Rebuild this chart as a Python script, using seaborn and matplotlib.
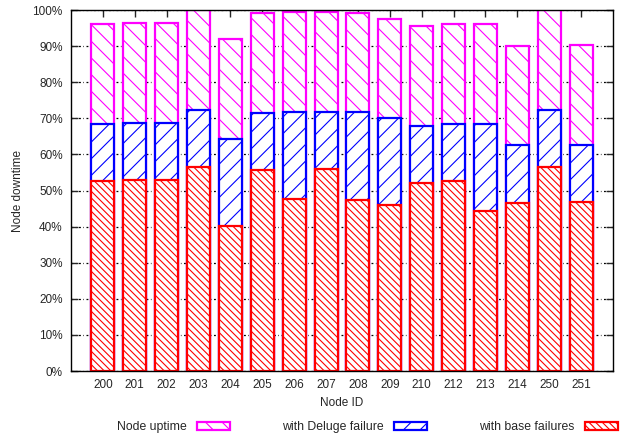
import matplotlib
matplotlib.use("Agg")
import matplotlib.pyplot as plt
import seaborn as sns
import pandas as pd
from matplotlib.patches import Patch

# ---- data (percent) ----
node_ids = ["200", "201", "202", "203", "204", "205", "206", "207",
            "208", "209", "210", "212", "213", "214", "250", "251"]
base_failures = [52.6, 52.8, 52.8, 56.4, 40.1, 55.7, 47.6, 55.9,
                 47.5, 45.9, 52.1, 52.5, 44.3, 46.6, 56.4, 46.8]
deluge_failure = [15.9, 15.9, 16.0, 16.0, 24.3, 15.9, 24.1, 15.9,
                  24.2, 24.1, 15.8, 15.9, 24.2, 15.9, 16.0, 15.9]
node_uptime = [27.6, 27.6, 27.5, 27.6, 27.6, 27.6, 27.7, 27.6,
               27.6, 27.5, 27.7, 27.6, 27.6, 27.6, 27.6, 27.6]
y_ticks = [0, 10, 20, 30, 40, 50, 60, 70, 80, 90, 100]
y_tick_labels = [f"{v}%" for v in y_ticks]

df = pd.DataFrame({"node": node_ids, "base": base_failures,
                   "deluge": deluge_failure, "uptime": node_uptime})
df["deluge_top"] = df["base"] + df["deluge"]
df["total"] = (df["deluge_top"] + df["uptime"]).clip(upper=100)

sns.set_style("white")
plt.rcParams["font.family"] = ["Liberation Sans", "DejaVu Sans"]
plt.rcParams["hatch.linewidth"] = 0.8

fig = plt.figure(figsize=(6.39, 4.36), dpi=100)
ax = fig.add_axes([71 / 639, 1 - 371 / 436, 542 / 639, 361 / 436])

PINK, BLUE, RED = "#ff00ff", "#0000ff", "#ff0000"
layers = [("total", PINK, "\\\\"), ("deluge_top", BLUE, "//"), ("base", RED, "\\\\\\\\\\")]
for col, c, h in layers:
    sns.barplot(data=df, x="node", y=col, order=node_ids, color="white",
                edgecolor=c, linewidth=1.6, hatch=h, width=0.72,
                saturation=1, ax=ax, errorbar=None, zorder=3)
for p in ax.patches:
    p.set_facecolor("white")

ax.set_xlim(-1, 16)
ax.set_ylim(0, 100)
ax.set_yticks(y_ticks)
ax.set_yticklabels(y_tick_labels)
ax.set_axisbelow(True)
ax.yaxis.grid(True, color="black", linestyle=(0, (1.5, 2, 0.5, 2)), linewidth=0.9, zorder=0)
ax.xaxis.grid(False)
ax.tick_params(direction="in", length=5, width=1, labelsize=8.5,
               top=True, right=True, bottom=True, left=True, pad=6)
ax.tick_params(axis="x", bottom=False)
for s in ax.spines.values():
    s.set_visible(True)
    s.set_color("black")
    s.set_linewidth(1.0)
    s.set_zorder(5)

ax.set_xlabel("Node ID", fontsize=8.5, labelpad=4)
ax.set_ylabel("Node downtime", fontsize=8.5, labelpad=6)

handles = [Patch(facecolor="white", edgecolor=PINK, hatch="\\\\", linewidth=1.6, label="Node uptime"),
           Patch(facecolor="white", edgecolor=BLUE, hatch="//", linewidth=1.6, label="with Deluge failure"),
           Patch(facecolor="white", edgecolor=RED, hatch="\\\\\\\\\\", linewidth=1.6, label="with base failures")]
fig.legend(handles=handles, loc="center", bbox_to_anchor=(0.575, 1 - 427 / 436),
           ncol=3, frameon=False, markerfirst=False, fontsize=8.8,
           handlelength=2.7, handleheight=0.6, columnspacing=4.3, handletextpad=0.8)

fig.savefig("out.png", dpi=100)
